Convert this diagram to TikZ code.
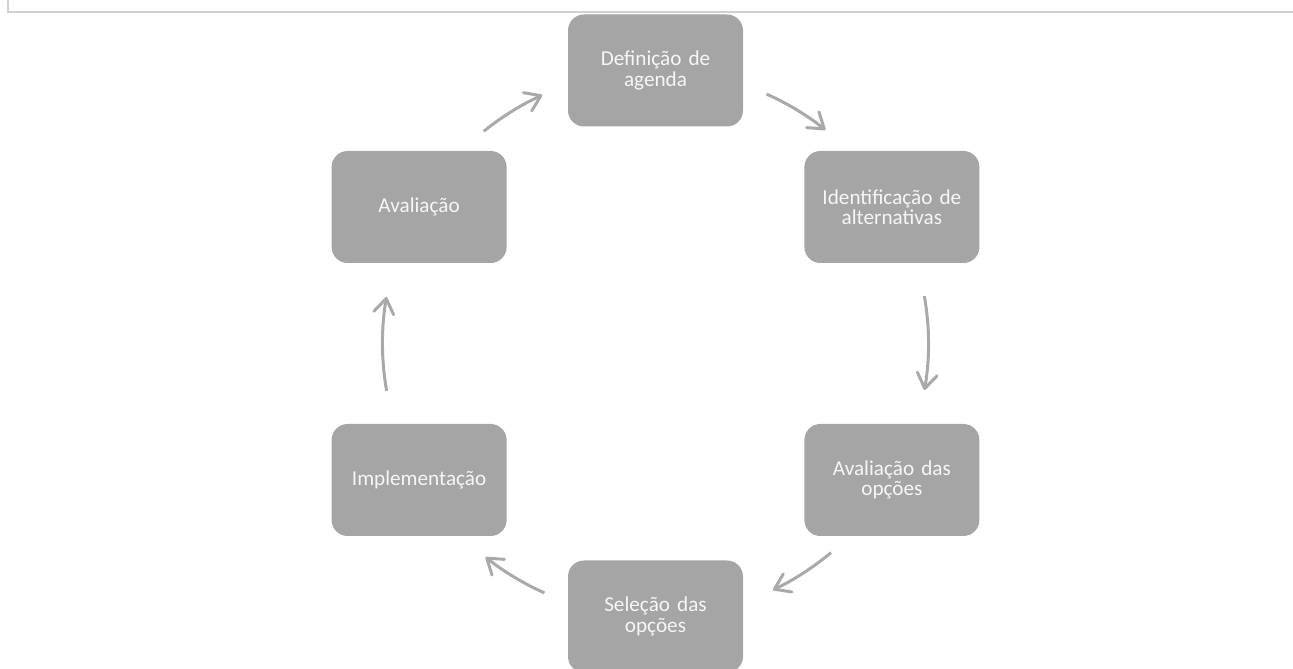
\documentclass[tikz,border=0pt]{standalone}
\usepackage{fontspec}
\setmainfont{Carlito}
\usetikzlibrary{arrows.meta}
\definecolor{boxgray}{HTML}{A5A5A5}
\definecolor{arrgray}{HTML}{A9A9A9}
\definecolor{framegray}{HTML}{D0D0D0}
\definecolor{txt}{HTML}{F6F6F6}
\tikzset{
  stepbox/.style={fill=boxgray, draw=none, rounded corners=12pt,
    minimum width=131.25pt, minimum height=84pt, inner sep=0pt,
    text width=125pt, align=center, text=txt,
    font=\fontsize{15.9}{15.3}\selectfont},
  cyclearrow/.style={draw=arrgray, line width=2.25pt,
    -{Straight Barb[length=11pt,width=15pt,line cap=round,line join=round]}},
}
\begin{document}
\begin{tikzpicture}[x=0.75pt,y=0.75pt]
\useasboundingbox (0,0) rectangle (1293,668);
\draw[framegray, line width=1.5pt] (7.5,668) -- (7.5,655.5) -- (1293,655.5);
\coordinate (C) at (655.5,324.5);
\node[stepbox] (def) at (655.5,597.5) {Definição de\\agenda};
\node[stepbox] (ident) at (891.9,461) {Identificação de\\alternativas};
\node[stepbox] (avop) at (891.9,188) {Avaliação das\\opções};
\node[stepbox] (sel) at (655.5,51.5) {Seleção das\\opções};
\node[stepbox] (impl) at (419.1,188) {Implementação};
\node[stepbox] (aval) at (419.1,461) {Avaliação};
\path (C) ++(129:204.75pt) coordinate (a1);
\path (C) ++(66:204.75pt) coordinate (a2);
\path (C) ++(10:204.75pt) coordinate (a3);
\path (C) ++(-50:204.75pt) coordinate (a4);
\path (C) ++(-114:204.75pt) coordinate (a5);
\path (C) ++(190:204.75pt) coordinate (a6);
\draw[cyclearrow] (a1) arc[start angle=129, end angle=114.5, radius=204.75pt];
\draw[cyclearrow] (a2) arc[start angle=66, end angle=51.5, radius=204.75pt];
\draw[cyclearrow] (a3) arc[start angle=10, end angle=-9.8, radius=204.75pt];
\draw[cyclearrow] (a4) arc[start angle=-50, end angle=-64.5, radius=204.75pt];
\draw[cyclearrow] (a5) arc[start angle=-114, end angle=-128.5, radius=204.75pt];
\draw[cyclearrow] (a6) arc[start angle=190, end angle=170.2, radius=204.75pt];
\end{tikzpicture}
\end{document}
